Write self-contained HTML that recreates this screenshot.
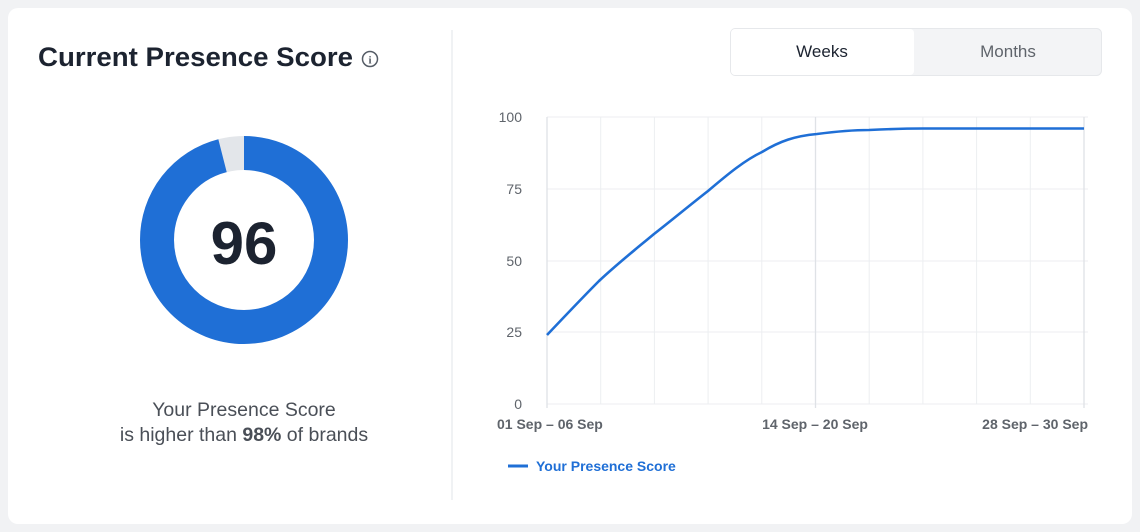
<!DOCTYPE html>
<html><head><meta charset="utf-8"><style>
html,body{margin:0;padding:0;background:#f1f2f4;width:1140px;height:532px;overflow:hidden}
body{font-family:"Liberation Sans",sans-serif}
</style></head><body>
<svg width="1140" height="532" xmlns="http://www.w3.org/2000/svg" font-family="Liberation Sans, sans-serif">
<rect x="8" y="8" width="1124" height="516" rx="10" fill="#ffffff"/>
<line x1="452" y1="30" x2="452" y2="500" stroke="#eceef1" stroke-width="1.5"/>
<text x="38" y="66" font-size="27" font-weight="bold" fill="#1c2330" textLength="315" lengthAdjust="spacingAndGlyphs">Current Presence Score</text>
<circle cx="370" cy="59" r="7.5" fill="none" stroke="#555c66" stroke-width="1.5"/>
<text x="370" y="63.5" font-size="11" font-weight="bold" fill="#555c66" text-anchor="middle" font-family="Liberation Serif, serif">i</text>
<circle cx="244" cy="240" r="87" fill="none" stroke="#e3e6ea" stroke-width="34"/>
<circle cx="244" cy="240" r="87" fill="none" stroke="#1f6fd6" stroke-width="34" stroke-dasharray="524.7 600" transform="rotate(-90 244 240)"/>
<text x="244" y="264" font-size="60" font-weight="bold" fill="#1c2330" text-anchor="middle">96</text>
<text x="244" y="416" font-size="19.5" fill="#4a4f57" text-anchor="middle">Your Presence Score</text>
<text x="244" y="441" font-size="19.5" fill="#4a4f57" text-anchor="middle">is higher than <tspan font-weight="bold">98%</tspan> of brands</text>
<rect x="730.5" y="28.5" width="371" height="47" rx="5" fill="#f3f4f6" stroke="#e6e8eb"/>
<rect x="731" y="29" width="183" height="46" rx="4" fill="#ffffff"/>
<text x="822" y="57" font-size="17" fill="#1c2330" text-anchor="middle">Weeks</text>
<text x="1008" y="57" font-size="17" fill="#5f646b" text-anchor="middle">Months</text>
<g stroke="#eceef1" stroke-width="1">
<line x1="547" y1="117" x2="1088" y2="117"/><line x1="547" y1="189" x2="1088" y2="189"/>
<line x1="547" y1="261" x2="1088" y2="261"/><line x1="547" y1="332" x2="1088" y2="332"/>
<line x1="547" y1="404" x2="1088" y2="404"/>
<line x1="600.7" y1="117" x2="600.7" y2="404"/><line x1="654.4" y1="117" x2="654.4" y2="404"/>
<line x1="708.1" y1="117" x2="708.1" y2="404"/><line x1="761.8" y1="117" x2="761.8" y2="404"/>
<line x1="869.2" y1="117" x2="869.2" y2="404"/><line x1="922.9" y1="117" x2="922.9" y2="404"/>
<line x1="976.6" y1="117" x2="976.6" y2="404"/><line x1="1030.3" y1="117" x2="1030.3" y2="404"/>
</g>
<g stroke="#dfe2e6" stroke-width="1.3">
<line x1="547" y1="117" x2="547" y2="408"/><line x1="815.5" y1="117" x2="815.5" y2="408"/><line x1="1084" y1="117" x2="1084" y2="408"/>
</g>
<g font-size="14" fill="#5f646b" text-anchor="end">
<text x="522" y="122">100</text><text x="522" y="194">75</text><text x="522" y="266">50</text><text x="522" y="337">25</text><text x="522" y="409">0</text>
</g>
<g font-size="14" font-weight="bold" fill="#5f646b">
<text x="497" y="429">01 Sep – 06 Sep</text>
<text x="815" y="429" text-anchor="middle">14 Sep – 20 Sep</text>
<text x="1088" y="429" text-anchor="end">28 Sep – 30 Sep</text>
</g>
<path d="M547,335 C565,316 583,297 599,281 C617,264 636,249 654,234 C672,220 690,205 708,191 C728,174 745,160 762,152 C780,141 795,136 817,134 C840,131 855,130 869,130 C890,129 905,128.5 923,128.5 L1084,128.5" fill="none" stroke="#1f6fd6" stroke-width="2.6" stroke-linejoin="round"/>
<line x1="508" y1="466" x2="528" y2="466" stroke="#1f6fd6" stroke-width="3"/>
<text x="536" y="471" font-size="14" font-weight="bold" fill="#1f6fd6">Your Presence Score</text>
</svg>
</body></html>
